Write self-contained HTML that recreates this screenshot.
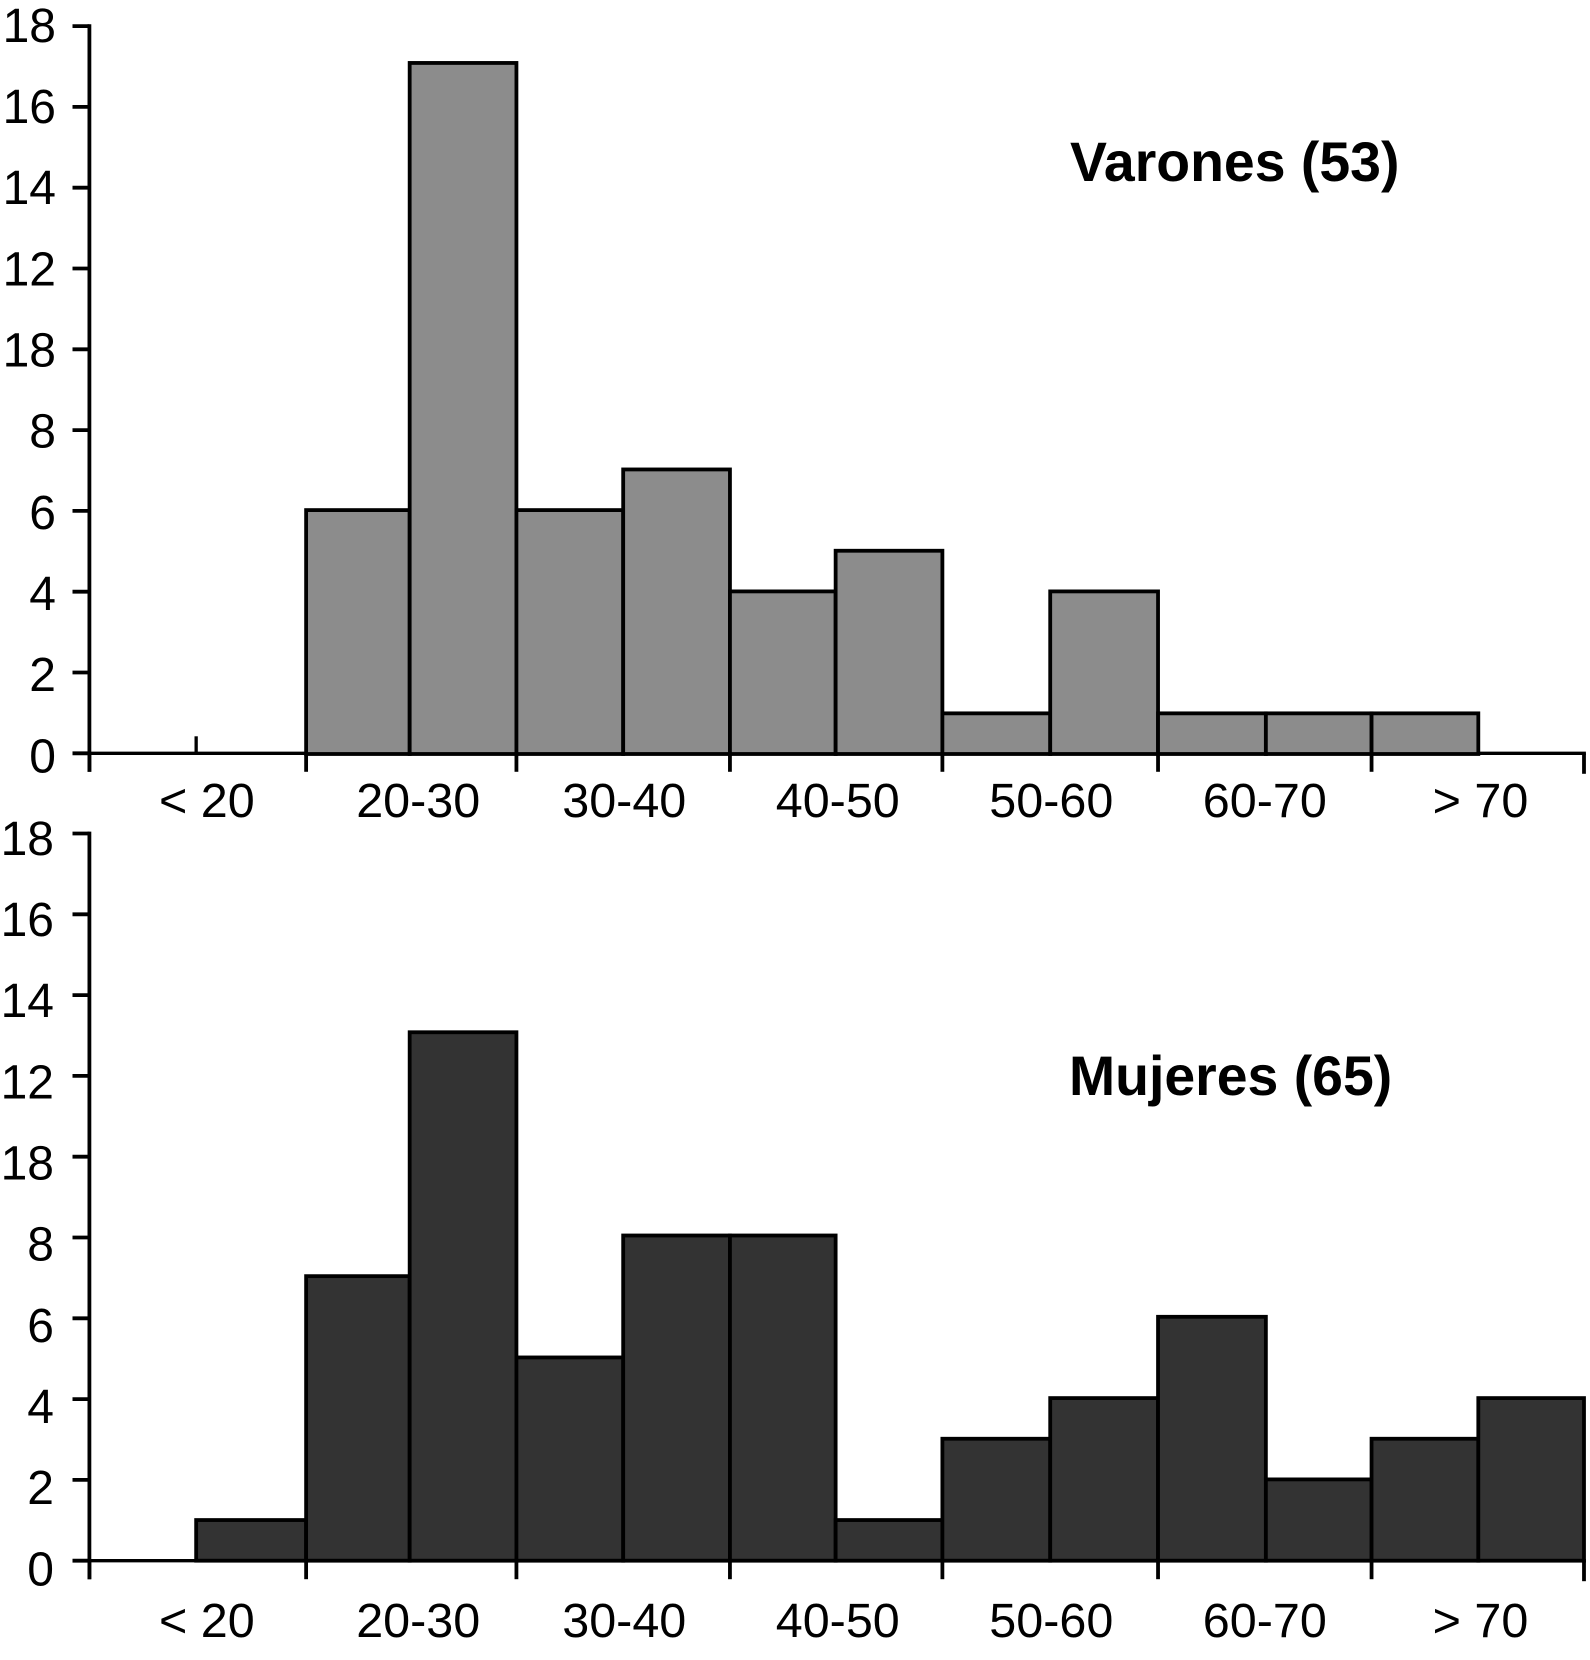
<!DOCTYPE html>
<html lang="es">
<head>
<meta charset="utf-8">
<title>Distribución por edad: Varones y Mujeres</title>
<style>
html,body{margin:0;padding:0;background:#fff;}
svg{display:block;}
text{font-family:"Liberation Sans",Arial,sans-serif;fill:#000;}
</style>
</head>
<body>
<svg id="chart" xmlns="http://www.w3.org/2000/svg" width="1590" height="1660" viewBox="0 0 1590 1660">
<rect x="0" y="0" width="1590" height="1660" fill="#ffffff"/>
<text x="1070" y="181" font-size="55.4" font-weight="700">Varones (53)</text>
<text x="1069" y="1095" font-size="55.4" font-weight="700">Mujeres (65)</text>
</svg>
<script>
const categories = ['< 20', '20-30', '30-40', '40-50', '50-60', '60-70', '> 70'];
const categoryCenterAges = [15.5, 25.4, 35.05, 45.05, 55.05, 65.05, 75.15];
const majorTickAges = [10, 20.15, 30, 40, 49.95, 60.05, 70.05, 80];
const binEdgeAges = [10, 15, 20.15, 25, 30, 35, 40, 44.95, 49.95, 55, 60.05, 65.1, 70.05, 75.05, 80];
const yTickValues = [0, 2, 4, 6, 8, 10, 12, 14, 16, 18];
const yTickLabels = ['0', '2', '4', '6', '8', '18', '12', '14', '16', '18'];
const varonesCounts = [0, 0, 6, 17, 6, 7, 4, 5, 1, 4, 1, 1, 1, 0];
const mujeresCounts = [0, 1, 7, 13, 5, 8, 8, 1, 3, 4, 6, 2, 3, 4];

const svg = document.getElementById('chart');
const NS = 'http://www.w3.org/2000/svg';
const AXIS_LEFT = 89.4, AXIS_RIGHT = 1584, AGE_MIN = 10, AGE_MAX = 80;
const TICK_UNIT = 40.4, BAR_UNIT = 40.65, LABEL_UNIT = 40.58, STROKE = 3.8;

function xScale(age) {
  return AXIS_LEFT + (age - AGE_MIN) * (AXIS_RIGHT - AXIS_LEFT) / (AGE_MAX - AGE_MIN);
}

function make(tag, attrs) {
  const el = document.createElementNS(NS, tag);
  for (const k in attrs) el.setAttribute(k, attrs[k]);
  return el;
}

function drawLine(x1, y1, x2, y2, width, name) {
  const el = make('line', { x1: x1, y1: y1, x2: x2, y2: y2, stroke: '#000', 'stroke-width': width });
  
  
  svg.appendChild(el);
}

function drawPanel(panel) {
  const tickY = function (v) { return panel.zeroY - v * TICK_UNIT; };
  const barY = function (v) { return panel.barZeroY - v * BAR_UNIT; };
  const labelY = function (v) { return panel.labelZeroY - v * LABEL_UNIT; };

  // Baseline and value axis
  drawLine(AXIS_LEFT, tickY(18) - 1.9, AXIS_LEFT, panel.zeroY + 18.5, STROKE, panel.key + '-y-axis');
  drawLine(72.5, panel.zeroY, AXIS_RIGHT + 1.9, panel.zeroY, 3.3, panel.key + '-x-axis');

  // Value ticks and labels
  yTickValues.forEach(function (v, i) {
    drawLine(72.5, tickY(v), AXIS_LEFT, tickY(v), STROKE, panel.key + '-y-tick-' + v);
    const label = make('text', { x: panel.labelRight, y: labelY(v), 'font-size': 48, 'text-anchor': 'end' });
    label.textContent = yTickLabels[i];
    
    
    svg.appendChild(label);
  });

  // Small upward tick in the first age group
  if (panel.key === 'varones') {
    drawLine(xScale(binEdgeAges[1]), panel.zeroY - 17, xScale(binEdgeAges[1]), panel.zeroY, 3.3, panel.key + '-minor-tick');
  }

  // Histogram bars
  panel.counts.forEach(function (count, i) {
    if (count === 0) return;
    const x0 = xScale(binEdgeAges[i]);
    const x1 = xScale(binEdgeAges[i + 1]);
    const bar = make('rect', {
      x: x0,
      y: barY(count),
      width: x1 - x0,
      height: barY(0) - barY(count),
      fill: panel.fill,
      stroke: '#000',
      'stroke-width': STROKE
    });
    
    
    svg.appendChild(bar);
  });

  // Category ticks
  majorTickAges.forEach(function (age, i) {
    const isLast = i === majorTickAges.length - 1;
    drawLine(xScale(age), panel.zeroY, xScale(age), panel.zeroY + (isLast ? 20.5 : 18.5), STROKE, panel.key + '-x-tick-' + i);
  });

  // Category labels
  categories.forEach(function (cat, i) {
    const label = make('text', { x: xScale(categoryCenterAges[i]), y: panel.xLabelY, 'font-size': 48.5, 'text-anchor': 'middle' });
    label.textContent = cat;
    
    
    svg.appendChild(label);
  });
}

drawPanel({ key: 'varones', counts: varonesCounts, fill: '#8c8c8c', zeroY: 753.3, barZeroY: 754, labelZeroY: 772.3, labelRight: 56, xLabelY: 817 });
drawPanel({ key: 'mujeres', counts: mujeresCounts, fill: '#333333', zeroY: 1560.7, barZeroY: 1560.7, labelZeroY: 1585.3, labelRight: 54, xLabelY: 1637 });
</script>
</body>
</html>
